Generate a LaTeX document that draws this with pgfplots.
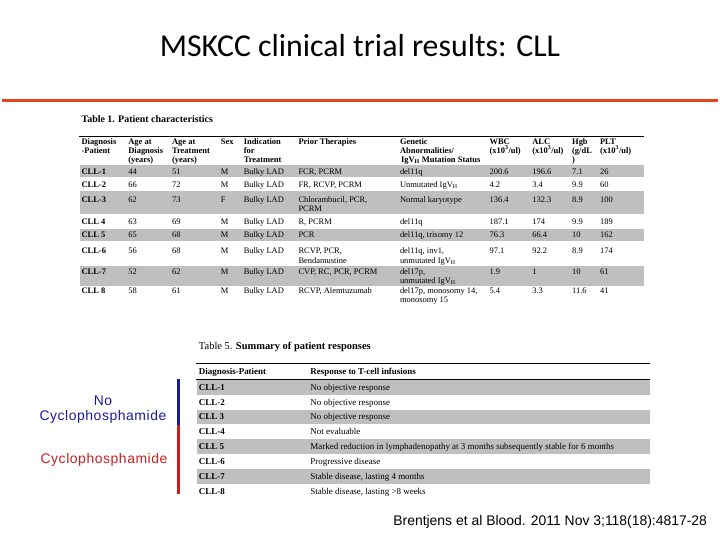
\documentclass[border=0pt]{standalone}
\usepackage{pgfplots}
\pgfplotsset{compat=1.18}
\usepackage{fontspec}
\setmainfont{Liberation Serif}
\newfontfamily\calibri{Carlito}
\newfontfamily\arial{Liberation Sans}
\newfontfamily\arialsp[LetterSpace=4]{Liberation Sans}

\definecolor{cOrange}{HTML}{E8461E}
\definecolor{cGray}{HTML}{BFBFBF}
\definecolor{cBlue}{HTML}{1A1AA0}
\definecolor{cRed}{HTML}{C81E1E}

\newcommand{\tfont}{\fontsize{8.5bp}{9bp}\selectfont}
\newcommand{\sfont}{\fontsize{9bp}{10bp}\selectfont}
% text cell: x, baseline y, text
\newcommand{\cT}[3]{\node[anchor=base west,inner sep=0pt,font=\tfont] at (axis cs:#1,#2) {#3};}
\newcommand{\cB}[3]{\node[anchor=base west,inner sep=0pt,font=\tfont\bfseries] at (axis cs:#1,#2) {#3};}
\newcommand{\cS}[3]{\node[anchor=base west,inner sep=0pt,font=\sfont] at (axis cs:#1,#2) {#3};}
% shaded row: x1, y1, x2, y2
\newcommand{\band}[4]{\addplot[draw=none, fill=cGray] coordinates {(#1,#2) (#3,#2) (#3,#4) (#1,#4)} --cycle;}
\newcommand{\IgVH}{IgV\textsubscript{H}}
\newcommand{\xul}{(x10\textsuperscript{3}/ul)}

\begin{document}
\begin{tikzpicture}
\begin{axis}[
    scale only axis, width=720bp, height=540bp,
    xmin=0, xmax=720, ymin=0, ymax=540, y dir=reverse,
    hide axis, clip=false,
]
% frame for the bounding box
\addplot[draw=none, forget plot] coordinates {(0,0) (720,540)};

% ============ title and rule ============
\node[anchor=base, inner sep=0pt, font=\calibri\fontsize{32bp}{36bp}\selectfont]
  at (axis cs:360,56.7) {MSKCC clinical trial results: CLL};
\addplot[cOrange, line width=3.5bp] coordinates {(0,101) (720,101)};

% ============ Table 1 ============
\node[anchor=base west, inner sep=0pt, font=\fontsize{10bp}{11bp}\selectfont\bfseries]
  at (axis cs:80,123) {Table 1. Patient characteristics};
\band{79}{166}{645}{178}
\band{79}{192}{645}{215.5}
\band{79}{230.5}{645}{242}
\band{79}{267.5}{645}{287}
\addplot[black, line width=0.9bp] coordinates {(78,137.3) (645,137.3)};

% header
\cB{80}{145.5}{Diagnosis}  \cB{80}{154.5}{-Patient}
\cB{127}{145.5}{Age at}    \cB{127}{154.5}{Diagnosis} \cB{127}{163.5}{(years)}
\cB{171}{145.5}{Age at}    \cB{171}{154.5}{Treatment} \cB{171}{163.5}{(years)}
\cB{220}{145.5}{Sex}
\cB{243}{145.5}{Indication} \cB{243}{154.5}{for} \cB{243}{163.5}{Treatment}
\cB{298}{145.5}{Prior Therapies}
\cB{400}{145.5}{Genetic} \cB{400}{154.5}{Abnormalities/} \cB{401}{163.5}{\IgVH\ Mutation Status}
\cB{490}{145.5}{WBC} \cB{490}{154.5}{\xul}
\cB{533}{145.5}{ALC} \cB{533}{154.5}{\xul}
\cB{573}{145.5}{Hgb} \cB{573}{154.5}{(g/dL} \cB{573}{163.5}{)}
\cB{601}{145.5}{PLT} \cB{601}{154.5}{\xul}

% CLL-1
\cB{80}{175}{CLL-1} \cT{127}{175}{44} \cT{171}{175}{51} \cT{220}{175}{M}
\cT{243}{175}{Bulky LAD} \cT{298}{175}{FCR, PCRM} \cT{400}{175}{del11q}
\cT{490}{175}{200.6} \cT{533}{175}{196.6} \cT{573}{175}{7.1} \cT{601}{175}{26}
% CLL-2
\cB{80}{188.5}{CLL-2} \cT{127}{188.5}{66} \cT{171}{188.5}{72} \cT{220}{188.5}{M}
\cT{243}{188.5}{Bulky LAD} \cT{298}{188.5}{FR, RCVP, PCRM} \cT{400}{188.5}{Unmutated \IgVH}
\cT{490}{188.5}{4.2} \cT{533}{188.5}{3.4} \cT{573}{188.5}{9.9} \cT{601}{188.5}{60}
% CLL-3
\cB{80}{203}{CLL-3} \cT{127}{203}{62} \cT{171}{203}{73} \cT{220}{203}{F}
\cT{243}{203}{Bulky LAD} \cT{298}{203}{Chlorambucil, PCR,} \cT{298}{212.5}{PCRM}
\cT{400}{203}{Normal karyotype}
\cT{490}{203}{136.4} \cT{533}{203}{132.3} \cT{573}{203}{8.9} \cT{601}{203}{100}
% CLL 4
\cB{80}{225.5}{CLL 4} \cT{127}{225.5}{63} \cT{171}{225.5}{69} \cT{220}{225.5}{M}
\cT{243}{225.5}{Bulky LAD} \cT{298}{225.5}{R, PCRM} \cT{400}{225.5}{del11q}
\cT{490}{225.5}{187.1} \cT{533}{225.5}{174} \cT{573}{225.5}{9.9} \cT{601}{225.5}{189}
% CLL 5
\cB{80}{239}{CLL 5} \cT{127}{239}{65} \cT{171}{239}{68} \cT{220}{239}{M}
\cT{243}{239}{Bulky LAD} \cT{298}{239}{PCR} \cT{400}{239}{del11q, trisomy 12}
\cT{490}{239}{76.3} \cT{533}{239}{66.4} \cT{573}{239}{10} \cT{601}{239}{162}
% CLL-6
\cB{80}{255}{CLL-6} \cT{127}{255}{56} \cT{171}{255}{68} \cT{220}{255}{M}
\cT{243}{255}{Bulky LAD} \cT{298}{255}{RCVP, PCR,} \cT{298}{264.5}{Bendamustine}
\cT{400}{255}{del11q, inv1,} \cT{400}{264.5}{unmutated \IgVH}
\cT{490}{255}{97.1} \cT{533}{255}{92.2} \cT{573}{255}{8.9} \cT{601}{255}{174}
% CLL-7
\cB{80}{276}{CLL-7} \cT{127}{276}{52} \cT{171}{276}{62} \cT{220}{276}{M}
\cT{243}{276}{Bulky LAD} \cT{298}{276}{CVP, RC, PCR, PCRM}
\cT{400}{276}{del17p,} \cT{400}{284.5}{unmutated \IgVH}
\cT{490}{276}{1.9} \cT{533}{276}{1} \cT{573}{276}{10} \cT{601}{276}{61}
% CLL 8
\cB{80}{295}{CLL 8} \cT{127}{295}{58} \cT{171}{295}{61} \cT{220}{295}{M}
\cT{243}{295}{Bulky LAD} \cT{298}{295}{RCVP, Alemtuzumab}
\cT{400}{295}{del17p, monosomy 14,} \cT{400}{304}{monosomy 15}
\cT{490}{295}{5.4} \cT{533}{295}{3.3} \cT{573}{295}{11.6} \cT{601}{295}{41}

% ============ Table 5 ============
\node[anchor=base west, inner sep=0pt, font=\fontsize{10.5bp}{12bp}\selectfont]
  at (axis cs:198,351) {Table 5. \textbf{Summary of patient responses}};
\band{196}{381.5}{651}{396.5}
\band{196}{411.5}{651}{426.5}
\band{196}{441.5}{651}{456.5}
\band{196}{471.5}{651}{486.5}
\addplot[black, line width=0.9bp] coordinates {(195,365.7) (651,365.7)};
\addplot[black, line width=0.9bp] coordinates {(195,381) (651,381)};
\cS{198}{376.5}{\bfseries Diagnosis-Patient} \cS{310}{376.5}{\bfseries Response to T-cell infusions}
\cS{198}{392}{\bfseries CLL-1} \cS{310}{392}{No objective response}
\cS{198}{407}{\bfseries CLL-2} \cS{310}{407}{No objective response}
\cS{198}{422}{\bfseries CLL 3} \cS{310}{422}{No objective response}
\cS{198}{437}{\bfseries CLL-4} \cS{310}{437}{Not evaluable}
\cS{198}{452}{\bfseries CLL 5} \cS{310}{452}{Marked reduction in lymphadenopathy at 3 months subsequently stable for 6 months}
\cS{198}{467}{\bfseries CLL-6} \cS{310}{467}{Progressive disease}
\cS{198}{482}{\bfseries CLL-7} \cS{310}{482}{Stable disease, lasting 4 months}
\cS{198}{497}{\bfseries CLL-8} \cS{310}{497}{Stable disease, lasting >8 weeks}

% ============ group markers ============
\addplot[cBlue, line width=3bp] coordinates {(178,381) (178,427)};
\addplot[cRed, line width=3bp] coordinates {(178,427) (178,496)};
\node[anchor=center, inner sep=0pt, font=\arialsp\fontsize{14bp}{15bp}\selectfont, text=cBlue]
  at (axis cs:101.7,402.7) {No};
\node[anchor=center, inner sep=0pt, font=\arialsp\fontsize{14bp}{15bp}\selectfont, text=cBlue]
  at (axis cs:101.7,419.3) {Cyclophosphamide};
\node[anchor=center, inner sep=0pt, font=\arialsp\fontsize{14bp}{15bp}\selectfont, text=cRed]
  at (axis cs:102.8,461.7) {Cyclophosphamide};

% ============ citation ============
\node[anchor=base west, inner sep=0pt, font=\arial\fontsize{14bp}{16bp}\selectfont]
  at (axis cs:393.3,528.3) {Brentjens et al Blood. 2011 Nov 3;118(18):4817-28};
\end{axis}
\end{tikzpicture}
\end{document}
